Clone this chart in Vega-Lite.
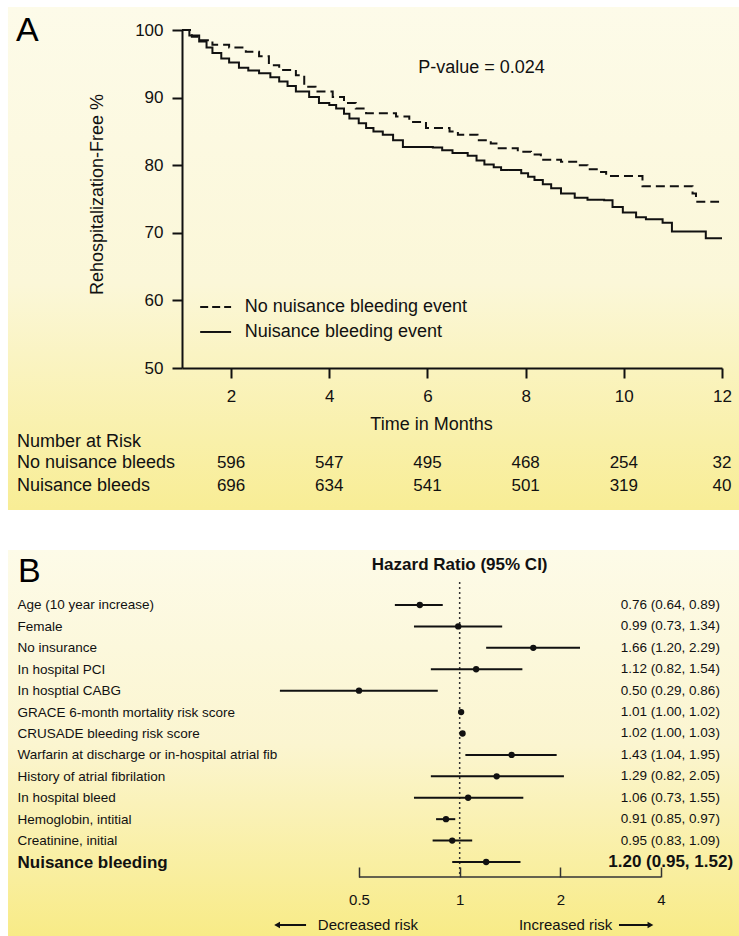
{
  "$schema": "https://vega.github.io/schema/vega-lite/v6.json",
  "padding": {"left": 7, "top": 7, "right": 0, "bottom": 0},
  "background": "white",
  "spacing": 38,
  "config": {"view": {"stroke": null}, "font": "Liberation Sans", "text": {"color": "#111"}},
  "datasets": {
    "km": [
      {"g": "No nuisance bleeding event", "m": 1, "s": 100},
      {"g": "No nuisance bleeding event", "m": 1.2, "s": 99.0},
      {"g": "No nuisance bleeding event", "m": 1.35, "s": 98.5},
      {"g": "No nuisance bleeding event", "m": 1.62, "s": 97.8},
      {"g": "No nuisance bleeding event", "m": 1.96, "s": 97.4},
      {"g": "No nuisance bleeding event", "m": 2.3, "s": 96.8},
      {"g": "No nuisance bleeding event", "m": 2.57, "s": 96.1},
      {"g": "No nuisance bleeding event", "m": 2.77, "s": 94.8},
      {"g": "No nuisance bleeding event", "m": 2.98, "s": 94.1},
      {"g": "No nuisance bleeding event", "m": 3.32, "s": 93.3},
      {"g": "No nuisance bleeding event", "m": 3.49, "s": 91.6},
      {"g": "No nuisance bleeding event", "m": 3.72, "s": 90.9},
      {"g": "No nuisance bleeding event", "m": 4.07, "s": 90.1},
      {"g": "No nuisance bleeding event", "m": 4.3, "s": 89.2},
      {"g": "No nuisance bleeding event", "m": 4.54, "s": 88.4},
      {"g": "No nuisance bleeding event", "m": 4.75, "s": 87.7},
      {"g": "No nuisance bleeding event", "m": 5.36, "s": 87.2},
      {"g": "No nuisance bleeding event", "m": 5.63, "s": 86.4},
      {"g": "No nuisance bleeding event", "m": 5.97, "s": 85.5},
      {"g": "No nuisance bleeding event", "m": 6.45, "s": 85.0},
      {"g": "No nuisance bleeding event", "m": 6.62, "s": 84.5},
      {"g": "No nuisance bleeding event", "m": 7.02, "s": 83.7},
      {"g": "No nuisance bleeding event", "m": 7.29, "s": 83.2},
      {"g": "No nuisance bleeding event", "m": 7.43, "s": 82.5},
      {"g": "No nuisance bleeding event", "m": 7.84, "s": 82.0},
      {"g": "No nuisance bleeding event", "m": 8.11, "s": 81.6},
      {"g": "No nuisance bleeding event", "m": 8.31, "s": 80.8},
      {"g": "No nuisance bleeding event", "m": 8.72, "s": 80.5},
      {"g": "No nuisance bleeding event", "m": 9.06, "s": 80.0},
      {"g": "No nuisance bleeding event", "m": 9.26, "s": 79.4},
      {"g": "No nuisance bleeding event", "m": 9.5, "s": 79.0},
      {"g": "No nuisance bleeding event", "m": 9.64, "s": 78.4},
      {"g": "No nuisance bleeding event", "m": 10.38, "s": 76.9},
      {"g": "No nuisance bleeding event", "m": 11.4, "s": 75.8},
      {"g": "No nuisance bleeding event", "m": 11.47, "s": 74.6},
      {"g": "No nuisance bleeding event", "m": 11.94, "s": 74.6},
      {"g": "Nuisance bleeding event", "m": 1, "s": 100},
      {"g": "Nuisance bleeding event", "m": 1.15, "s": 99.2},
      {"g": "Nuisance bleeding event", "m": 1.35, "s": 98.3},
      {"g": "Nuisance bleeding event", "m": 1.5, "s": 97.4},
      {"g": "Nuisance bleeding event", "m": 1.62, "s": 96.6},
      {"g": "Nuisance bleeding event", "m": 1.8, "s": 95.8},
      {"g": "Nuisance bleeding event", "m": 1.96, "s": 95.2},
      {"g": "Nuisance bleeding event", "m": 2.16, "s": 94.4},
      {"g": "Nuisance bleeding event", "m": 2.35, "s": 94.0},
      {"g": "Nuisance bleeding event", "m": 2.57, "s": 93.6},
      {"g": "Nuisance bleeding event", "m": 2.8, "s": 93.0},
      {"g": "Nuisance bleeding event", "m": 2.98, "s": 92.4},
      {"g": "Nuisance bleeding event", "m": 3.15, "s": 91.7},
      {"g": "Nuisance bleeding event", "m": 3.32, "s": 90.9},
      {"g": "Nuisance bleeding event", "m": 3.59, "s": 90.1},
      {"g": "Nuisance bleeding event", "m": 3.79, "s": 89.2},
      {"g": "Nuisance bleeding event", "m": 4.0, "s": 88.9},
      {"g": "Nuisance bleeding event", "m": 4.14, "s": 88.4},
      {"g": "Nuisance bleeding event", "m": 4.3, "s": 87.6},
      {"g": "Nuisance bleeding event", "m": 4.41, "s": 86.9},
      {"g": "Nuisance bleeding event", "m": 4.6, "s": 86.2},
      {"g": "Nuisance bleeding event", "m": 4.75, "s": 85.5},
      {"g": "Nuisance bleeding event", "m": 4.9, "s": 85.0},
      {"g": "Nuisance bleeding event", "m": 5.09, "s": 84.5},
      {"g": "Nuisance bleeding event", "m": 5.3, "s": 83.7},
      {"g": "Nuisance bleeding event", "m": 5.5, "s": 82.7},
      {"g": "Nuisance bleeding event", "m": 6.11, "s": 82.6},
      {"g": "Nuisance bleeding event", "m": 6.3, "s": 82.2},
      {"g": "Nuisance bleeding event", "m": 6.51, "s": 81.8},
      {"g": "Nuisance bleeding event", "m": 6.82, "s": 81.4},
      {"g": "Nuisance bleeding event", "m": 7.0, "s": 80.7},
      {"g": "Nuisance bleeding event", "m": 7.16, "s": 80.1},
      {"g": "Nuisance bleeding event", "m": 7.35, "s": 79.7},
      {"g": "Nuisance bleeding event", "m": 7.5, "s": 79.3},
      {"g": "Nuisance bleeding event", "m": 7.91, "s": 78.8},
      {"g": "Nuisance bleeding event", "m": 8.05, "s": 78.3},
      {"g": "Nuisance bleeding event", "m": 8.18, "s": 77.8},
      {"g": "Nuisance bleeding event", "m": 8.35, "s": 77.2},
      {"g": "Nuisance bleeding event", "m": 8.52, "s": 76.6},
      {"g": "Nuisance bleeding event", "m": 8.72, "s": 75.8},
      {"g": "Nuisance bleeding event", "m": 9.0, "s": 75.2},
      {"g": "Nuisance bleeding event", "m": 9.26, "s": 74.9},
      {"g": "Nuisance bleeding event", "m": 9.6, "s": 74.8},
      {"g": "Nuisance bleeding event", "m": 9.77, "s": 73.8},
      {"g": "Nuisance bleeding event", "m": 9.98, "s": 73.0},
      {"g": "Nuisance bleeding event", "m": 10.25, "s": 72.3},
      {"g": "Nuisance bleeding event", "m": 10.45, "s": 72.0},
      {"g": "Nuisance bleeding event", "m": 10.79, "s": 71.5},
      {"g": "Nuisance bleeding event", "m": 10.98, "s": 70.2},
      {"g": "Nuisance bleeding event", "m": 11.67, "s": 69.2},
      {"g": "Nuisance bleeding event", "m": 12.0, "s": 69.2}
    ],
    "risk": [
      {"grp": "No nuisance bleeds", "m": 2, "n": 596},
      {"grp": "No nuisance bleeds", "m": 4, "n": 547},
      {"grp": "No nuisance bleeds", "m": 6, "n": 495},
      {"grp": "No nuisance bleeds", "m": 8, "n": 468},
      {"grp": "No nuisance bleeds", "m": 10, "n": 254},
      {"grp": "No nuisance bleeds", "m": 12, "n": 32},
      {"grp": "Nuisance bleeds", "m": 2, "n": 696},
      {"grp": "Nuisance bleeds", "m": 4, "n": 634},
      {"grp": "Nuisance bleeds", "m": 6, "n": 541},
      {"grp": "Nuisance bleeds", "m": 8, "n": 501},
      {"grp": "Nuisance bleeds", "m": 10, "n": 319},
      {"grp": "Nuisance bleeds", "m": 12, "n": 40}
    ],
    "forest": [
      {"label": "Age (10 year increase)", "hr": 0.76, "lo": 0.64, "hi": 0.89, "ci": "0.76 (0.64, 0.89)"},
      {"label": "Female", "hr": 0.99, "lo": 0.73, "hi": 1.34, "ci": "0.99 (0.73, 1.34)"},
      {"label": "No insurance", "hr": 1.66, "lo": 1.20, "hi": 2.29, "ci": "1.66 (1.20, 2.29)"},
      {"label": "In hospital PCI", "hr": 1.12, "lo": 0.82, "hi": 1.54, "ci": "1.12 (0.82, 1.54)"},
      {"label": "In hosptial CABG", "hr": 0.50, "lo": 0.29, "hi": 0.86, "ci": "0.50 (0.29, 0.86)"},
      {"label": "GRACE 6-month mortality risk score", "hr": 1.01, "lo": 1.00, "hi": 1.02, "ci": "1.01 (1.00, 1.02)"},
      {"label": "CRUSADE bleeding risk score", "hr": 1.02, "lo": 1.00, "hi": 1.03, "ci": "1.02 (1.00, 1.03)"},
      {"label": "Warfarin at discharge or in-hospital atrial fib", "hr": 1.43, "lo": 1.04, "hi": 1.95, "ci": "1.43 (1.04, 1.95)"},
      {"label": "History of atrial fibrilation", "hr": 1.29, "lo": 0.82, "hi": 2.05, "ci": "1.29 (0.82, 2.05)"},
      {"label": "In hospital bleed", "hr": 1.06, "lo": 0.73, "hi": 1.55, "ci": "1.06 (0.73, 1.55)"},
      {"label": "Hemoglobin, intitial", "hr": 0.91, "lo": 0.85, "hi": 0.97, "ci": "0.91 (0.85, 0.97)"},
      {"label": "Creatinine, initial", "hr": 0.95, "lo": 0.83, "hi": 1.09, "ci": "0.95 (0.83, 1.09)"},
      {"label": "Nuisance bleeding", "hr": 1.20, "lo": 0.95, "hi": 1.52, "ci": "1.20 (0.95, 1.52)"}
    ]
  },
  "vconcat": [
    {
      "width": 540,
      "height": 338,
      "layer": [
        {
          "data": {"values": [{}]},
          "mark": {"type": "rect", "fill": {"gradient": "linear", "x1": 0, "y1": 0, "x2": 0, "y2": 1, "stops": [{"offset": 0, "color": "#fdfbe9"}, {"offset": 0.55, "color": "#fbf7d8"}, {"offset": 1, "color": "#f8ed95"}]}},
          "encoding": {
            "x": {"datum": -2.545, "type": "quantitative", "scale": {"domain": [1, 12], "nice": false, "zero": false}},
            "x2": {"datum": 12.367},
            "y": {"datum": 103.4, "type": "quantitative", "scale": {"domain": [50, 100], "nice": false, "zero": false}},
            "y2": {"datum": 28.99}
          }
        },
        {
          "data": {"name": "km"},
          "mark": {"type": "line", "interpolate": "step-after", "strokeWidth": 2, "color": "#111"},
          "encoding": {
            "x": {"field": "m", "type": "quantitative", "scale": {"domain": [1, 12], "nice": false, "zero": false},
              "axis": {"zindex": 1, "values": [2, 4, 6, 8, 10, 12], "title": "Time in Months", "titleFontSize": 18, "titleFontWeight": "normal", "titleColor": "#111", "titleX": 249, "titlePadding": 11, "labelFontSize": 17, "labelColor": "#111", "labelPadding": 10, "tickSize": 10, "tickWidth": 2, "tickColor": "#111", "domainColor": "#111", "domainWidth": 2, "grid": false, "labelFlush": false, "labelOverlap": false}},
            "y": {"field": "s", "type": "quantitative", "scale": {"domain": [50, 100], "nice": false, "zero": false},
              "axis": {"zindex": 1, "values": [50, 60, 70, 80, 90, 100], "title": "Rehospitalization-Free %", "titleFontSize": 18, "titleFontWeight": "normal", "titleColor": "#111", "titlePadding": 28, "titleY": 164, "labelFontSize": 17, "labelColor": "#111", "labelPadding": 9, "tickSize": 10, "tickWidth": 2, "tickColor": "#111", "domainColor": "#111", "domainWidth": 2, "grid": false, "labelFlush": false, "labelOverlap": false}},
            "strokeDash": {"field": "g", "type": "nominal", "scale": {"domain": ["No nuisance bleeding event", "Nuisance bleeding event"], "range": [[9, 5], [1, 0]]}, "legend": null}
          }
        },
        {
          "data": {"values": [{}]},
          "mark": {"type": "rule", "strokeWidth": 2, "color": "#111", "strokeDash": [8, 4]},
          "encoding": {
            "x": {"datum": 1.37, "type": "quantitative", "scale": {"domain": [1, 12], "nice": false, "zero": false}},
            "x2": {"datum": 2.0},
            "y": {"datum": 59.02, "type": "quantitative", "scale": {"domain": [50, 100], "nice": false, "zero": false}}
          }
        },
        {
          "data": {"values": [{}]},
          "mark": {"type": "rule", "strokeWidth": 2, "color": "#111"},
          "encoding": {
            "x": {"datum": 1.37, "type": "quantitative", "scale": {"domain": [1, 12], "nice": false, "zero": false}},
            "x2": {"datum": 2.0},
            "y": {"datum": 55.33, "type": "quantitative", "scale": {"domain": [50, 100], "nice": false, "zero": false}}
          }
        },
        {
          "data": {"values": [{}]},
          "mark": {"type": "text", "text": "No nuisance bleeding event", "fontSize": 18, "align": "left", "baseline": "middle"},
          "encoding": {
            "x": {"datum": 2.28, "type": "quantitative", "scale": {"domain": [1, 12], "nice": false, "zero": false}},
            "y": {"datum": 59.02, "type": "quantitative", "scale": {"domain": [50, 100], "nice": false, "zero": false}}
          }
        },
        {
          "data": {"values": [{}]},
          "mark": {"type": "text", "text": "Nuisance bleeding event", "fontSize": 18, "align": "left", "baseline": "middle"},
          "encoding": {
            "x": {"datum": 2.28, "type": "quantitative", "scale": {"domain": [1, 12], "nice": false, "zero": false}},
            "y": {"datum": 55.33, "type": "quantitative", "scale": {"domain": [50, 100], "nice": false, "zero": false}}
          }
        },
        {
          "data": {"values": [{}]},
          "mark": {"type": "text", "text": "P-value = 0.024", "fontSize": 18, "align": "left", "baseline": "middle"},
          "encoding": {
            "x": {"datum": 5.81, "type": "quantitative", "scale": {"domain": [1, 12], "nice": false, "zero": false}},
            "y": {"datum": 94.38, "type": "quantitative", "scale": {"domain": [50, 100], "nice": false, "zero": false}}
          }
        },
        {
          "data": {"values": [{}]},
          "mark": {"type": "text", "text": "A", "fontSize": 34, "align": "left", "baseline": "middle", "color": "#000"},
          "encoding": {
            "x": {"datum": -2.38, "type": "quantitative", "scale": {"domain": [1, 12], "nice": false, "zero": false}},
            "y": {"datum": 99.9, "type": "quantitative", "scale": {"domain": [50, 100], "nice": false, "zero": false}}
          }
        },
        {
          "data": {"values": [{}]},
          "mark": {"type": "text", "text": "Number at Risk", "fontSize": 18, "align": "left", "baseline": "middle"},
          "encoding": {
            "x": {"datum": -2.361, "type": "quantitative", "scale": {"domain": [1, 12], "nice": false, "zero": false}},
            "y": {"datum": 39.05, "type": "quantitative", "scale": {"domain": [50, 100], "nice": false, "zero": false}}
          }
        },
        {
          "data": {"values": [{}]},
          "mark": {"type": "text", "text": "No nuisance bleeds", "fontSize": 18, "align": "left", "baseline": "middle"},
          "encoding": {
            "x": {"datum": -2.361, "type": "quantitative", "scale": {"domain": [1, 12], "nice": false, "zero": false}},
            "y": {"datum": 35.95, "type": "quantitative", "scale": {"domain": [50, 100], "nice": false, "zero": false}}
          }
        },
        {
          "data": {"values": [{}]},
          "mark": {"type": "text", "text": "Nuisance bleeds", "fontSize": 18, "align": "left", "baseline": "middle"},
          "encoding": {
            "x": {"datum": -2.361, "type": "quantitative", "scale": {"domain": [1, 12], "nice": false, "zero": false}},
            "y": {"datum": 32.54, "type": "quantitative", "scale": {"domain": [50, 100], "nice": false, "zero": false}}
          }
        },
        {
          "data": {"name": "risk"},
          "transform": [{"filter": "datum.grp === 'No nuisance bleeds'"}],
          "mark": {"type": "text", "fontSize": 17, "align": "center", "baseline": "middle"},
          "encoding": {
            "x": {"field": "m", "type": "quantitative", "scale": {"domain": [1, 12], "nice": false, "zero": false}},
            "y": {"datum": 35.95, "type": "quantitative", "scale": {"domain": [50, 100], "nice": false, "zero": false}},
            "text": {"field": "n", "type": "quantitative"}
          }
        },
        {
          "data": {"name": "risk"},
          "transform": [{"filter": "datum.grp === 'Nuisance bleeds'"}],
          "mark": {"type": "text", "fontSize": 17, "align": "center", "baseline": "middle"},
          "encoding": {
            "x": {"field": "m", "type": "quantitative", "scale": {"domain": [1, 12], "nice": false, "zero": false}},
            "y": {"datum": 32.54, "type": "quantitative", "scale": {"domain": [50, 100], "nice": false, "zero": false}},
            "text": {"field": "n", "type": "quantitative"}
          }
        }
      ]
    },
    {
      "width": 479,
      "height": 295,
      "resolve": {"scale": {"y": "independent"}, "axis": {"y": "independent"}},
      "layer": [
        {
          "data": {"values": [{}]},
          "layer": [
            {
              "mark": {"type": "rect", "fill": {"gradient": "linear", "x1": 0, "y1": 0, "x2": 0, "y2": 1, "stops": [{"offset": 0, "color": "#fdfbe8"}, {"offset": 0.5, "color": "#fbf5d0"}, {"offset": 1, "color": "#f8eb86"}]}},
              "encoding": {
                "x": {"datum": 0.0446, "type": "quantitative", "scale": {"type": "log", "domain": [0.14778, 4], "nice": false}},
                "x2": {"datum": 6.89},
                "y": {"datum": 1.1085, "type": "quantitative", "scale": {"domain": [0, 1], "nice": false, "zero": false}, "axis": null},
                "y2": {"datum": -0.2068}
              }
            },
            {
              "mark": {"type": "rule", "strokeWidth": 1.5, "color": "#333"},
              "encoding": {
                "x": {"datum": 0.5, "type": "quantitative", "scale": {"type": "log", "domain": [0.14778, 4], "nice": false}},
                "x2": {"datum": 4},
                "y": {"datum": 0, "type": "quantitative", "scale": {"domain": [0, 1], "nice": false, "zero": false}, "axis": null}
              }
            },
            {
              "mark": {"type": "text", "text": "B", "fontSize": 34, "align": "left", "baseline": "middle", "color": "#000"},
              "encoding": {
                "x": {"datum": 0.0478, "type": "quantitative", "scale": {"type": "log", "domain": [0.14778, 4], "nice": false}},
                "y": {"datum": 1.0339, "type": "quantitative", "scale": {"domain": [0, 1], "nice": false, "zero": false}, "axis": null}
              }
            },
            {
              "mark": {"type": "text", "text": "Hazard Ratio (95% CI)", "fontSize": 17, "fontWeight": "bold", "align": "center", "baseline": "middle"},
              "encoding": {
                "x": {"datum": 1, "type": "quantitative", "scale": {"type": "log", "domain": [0.14778, 4], "nice": false}},
                "y": {"datum": 1.0576, "type": "quantitative", "scale": {"domain": [0, 1], "nice": false, "zero": false}, "axis": null}
              }
            },
            {
              "mark": {"type": "text", "text": "Decreased risk", "fontSize": 15, "align": "right", "baseline": "middle"},
              "encoding": {
                "x": {"datum": 0.75, "type": "quantitative", "scale": {"type": "log", "domain": [0.14778, 4], "nice": false}},
                "y": {"datum": -0.1627, "type": "quantitative", "scale": {"domain": [0, 1], "nice": false, "zero": false}, "axis": null}
              }
            },
            {
              "mark": {"type": "text", "text": "Increased risk", "fontSize": 15, "align": "left", "baseline": "middle"},
              "encoding": {
                "x": {"datum": 1.504, "type": "quantitative", "scale": {"type": "log", "domain": [0.14778, 4], "nice": false}},
                "y": {"datum": -0.1627, "type": "quantitative", "scale": {"domain": [0, 1], "nice": false, "zero": false}, "axis": null}
              }
            },
            {
              "mark": {"type": "rule", "strokeWidth": 2, "color": "#111"},
              "encoding": {
                "x": {"datum": 0.2844, "type": "quantitative", "scale": {"type": "log", "domain": [0.14778, 4], "nice": false}},
                "x2": {"datum": 0.3472},
                "y": {"datum": -0.1627, "type": "quantitative", "scale": {"domain": [0, 1], "nice": false, "zero": false}, "axis": null}
              }
            },
            {
              "mark": {"type": "point", "shape": "triangle-left", "filled": true, "size": 45, "color": "#111", "opacity": 1},
              "encoding": {
                "x": {"datum": 0.2844, "type": "quantitative", "scale": {"type": "log", "domain": [0.14778, 4], "nice": false}},
                "y": {"datum": -0.1627, "type": "quantitative", "scale": {"domain": [0, 1], "nice": false, "zero": false}, "axis": null}
              }
            },
            {
              "mark": {"type": "rule", "strokeWidth": 2, "color": "#111"},
              "encoding": {
                "x": {"datum": 2.995, "type": "quantitative", "scale": {"type": "log", "domain": [0.14778, 4], "nice": false}},
                "x2": {"datum": 3.72},
                "y": {"datum": -0.1627, "type": "quantitative", "scale": {"domain": [0, 1], "nice": false, "zero": false}, "axis": null}
              }
            },
            {
              "mark": {"type": "point", "shape": "triangle-right", "filled": true, "size": 45, "color": "#111", "opacity": 1},
              "encoding": {
                "x": {"datum": 3.72, "type": "quantitative", "scale": {"type": "log", "domain": [0.14778, 4], "nice": false}},
                "y": {"datum": -0.1627, "type": "quantitative", "scale": {"domain": [0, 1], "nice": false, "zero": false}, "axis": null}
              }
            }
          ]
        },
        {
          "data": {"name": "forest"},
          "layer": [
            {
              "data": {"values": [{}]},
              "mark": {"type": "rule", "strokeDash": [2, 3], "strokeWidth": 1.5, "color": "#333"},
              "encoding": {
                "x": {"datum": 1, "type": "quantitative", "scale": {"type": "log", "domain": [0.14778, 4], "nice": false}}
              }
            },
            {
              "mark": {"type": "rule", "strokeWidth": 2, "color": "#111"},
              "encoding": {
                "x": {"field": "lo", "type": "quantitative", "scale": {"type": "log", "domain": [0.14778, 4], "nice": false},
                  "axis": {"zindex": 1, "values": [0.5, 1, 2, 4], "format": "~g", "title": null, "grid": false, "domain": false, "tickColor": "#333", "tickWidth": 1.5, "tickSize": -10, "labelFontSize": 15, "labelColor": "#111", "labelPadding": 25, "labelFlush": false, "labelOverlap": false}},
                "x2": {"field": "hi"},
                "y": {"field": "label", "type": "nominal", "sort": null, "scale": {"type": "point", "padding": 0.886, "align": 0.605},
                  "axis": {"zindex": 1, "title": null, "domain": false, "ticks": false, "tickSize": 0, "labelAlign": "left", "labelBaseline": "middle", "labelPadding": 165, "labelLimit": 0, "labelColor": "#111",
                    "labelFontSize": {"condition": {"test": "datum.value === 'Nuisance bleeding'", "value": 17}, "value": 13.5},
                    "labelFontWeight": {"condition": {"test": "datum.value === 'Nuisance bleeding'", "value": "bold"}, "value": "normal"}}}
              }
            },
            {
              "mark": {"type": "circle", "size": 40, "color": "#111", "opacity": 1},
              "encoding": {
                "x": {"field": "hr", "type": "quantitative", "scale": {"type": "log", "domain": [0.14778, 4], "nice": false}},
                "y": {"field": "label", "type": "nominal", "sort": null, "scale": {"type": "point", "padding": 0.886, "align": 0.605}}
              }
            },
            {
              "transform": [{"filter": "datum.label !== 'Nuisance bleeding'"}],
              "mark": {"type": "text", "fontSize": 13.5, "align": "right", "baseline": "middle"},
              "encoding": {
                "x": {"datum": 6.0, "type": "quantitative", "scale": {"type": "log", "domain": [0.14778, 4], "nice": false}},
                "y": {"field": "label", "type": "nominal", "sort": null, "scale": {"type": "point", "padding": 0.886, "align": 0.605}},
                "text": {"field": "ci", "type": "nominal"}
              }
            },
            {
              "transform": [{"filter": "datum.label === 'Nuisance bleeding'"}],
              "mark": {"type": "text", "fontSize": 17, "fontWeight": "bold", "align": "right", "baseline": "middle"},
              "encoding": {
                "x": {"datum": 6.57, "type": "quantitative", "scale": {"type": "log", "domain": [0.14778, 4], "nice": false}},
                "y": {"field": "label", "type": "nominal", "sort": null, "scale": {"type": "point", "padding": 0.886, "align": 0.605}},
                "text": {"field": "ci", "type": "nominal"}
              }
            }
          ]
        }
      ]
    }
  ]
}
